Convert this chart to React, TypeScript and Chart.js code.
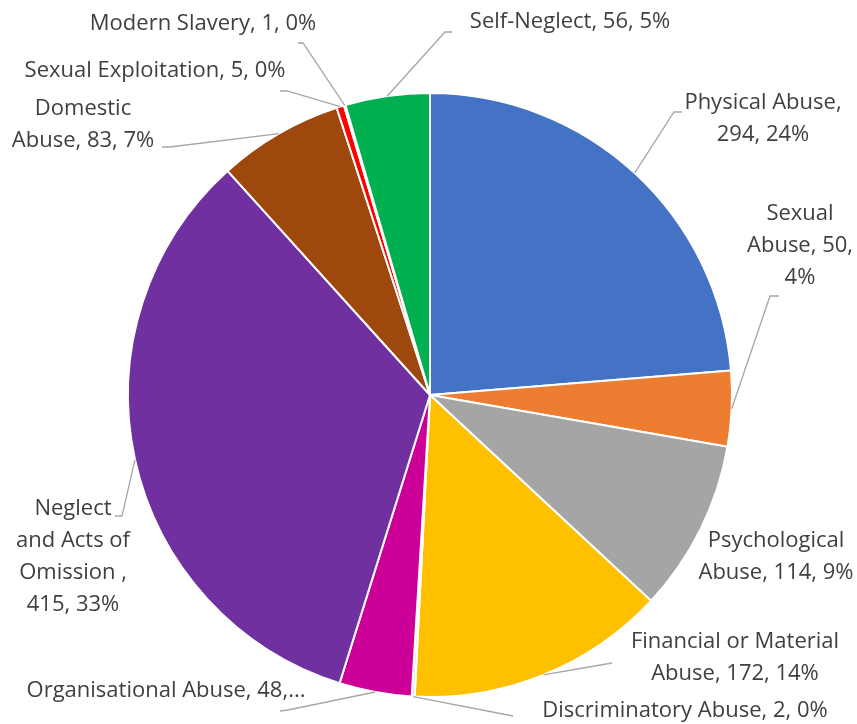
import React, { useEffect, useRef } from "react";
import { Chart, registerables } from "chart.js";

Chart.register(...registerables);

const categories = [
  "Physical Abuse",
  "Sexual Abuse",
  "Psychological Abuse",
  "Financial or Material Abuse",
  "Discriminatory Abuse",
  "Organisational Abuse",
  "Neglect and Acts of Omission ",
  "Domestic Abuse",
  "Sexual Exploitation",
  "Modern Slavery",
  "Self-Neglect",
];
const values = [294, 50, 114, 172, 2, 48, 415, 83, 5, 1, 56];
const colors = [
  "#4472C4",
  "#ED7D31",
  "#A5A5A5",
  "#FFC000",
  "#D6E0F3",
  "#CC0099",
  "#7030A0",
  "#9E480E",
  "#FF0000",
  "#F4B183",
  "#00B050",
];

// words per line for each label; if fewer words than available, text is truncated with "..."
const wrapWords = [[2, 2], [1, 2, 1], [1, 3], [3, 3], [5], [3], [1, 3, 2, 2], [1, 3], [4], [4], [3]];

// label layout: text center x, first line y, optional leader elbow & tail
type Lay = { cx: number; y: number; elbow?: [number, number]; tail?: [number, number] };
const labelLayout: Lay[] = [
  { cx: 763, y: 103, elbow: [674, 112], tail: [682, 112] },
  { cx: 800, y: 214, elbow: [770, 296], tail: [779, 296] },
  { cx: 776, y: 541 },
  { cx: 735, y: 642, elbow: [612, 663], tail: [612, 663] },
  { cx: 685, y: 711, elbow: [513, 716], tail: [513, 716] },
  { cx: 166, y: 691, elbow: [288, 710], tail: [280, 711] },
  { cx: 73, y: 509, elbow: [122, 516], tail: [115, 516] },
  { cx: 83, y: 109, elbow: [170, 147], tail: [162, 147] },
  { cx: 155, y: 71, elbow: [287, 91], tail: [280, 91] },
  { cx: 203, y: 24, elbow: [303, 43], tail: [298, 43] },
  { cx: 570, y: 22, elbow: [445, 32], tail: [452, 32] },
];

const FONT = '22px "Open Sans", sans-serif';
const LINE_H = 32;

const labelPlugin = {
  id: "excelLabels",
  afterDatasetsDraw(chart: any) {
    const ctx = chart.ctx as CanvasRenderingContext2D;
    const meta = chart.getDatasetMeta(0);
    const data = chart.data.datasets[0].data as number[];
    const total = data.reduce((a, b) => a + b, 0);
    ctx.save();
    meta.data.forEach((arc: any, i: number) => {
      const lay = labelLayout[i];
      const { x, y, startAngle, endAngle, outerRadius } = arc.getProps(
        ["x", "y", "startAngle", "endAngle", "outerRadius"],
        true
      );
      const mid = (startAngle + endAngle) / 2;
      const px = x + Math.cos(mid) * outerRadius;
      const py = y + Math.sin(mid) * outerRadius;
      if (lay.elbow && lay.tail) {
        ctx.strokeStyle = "#A6A6A6";
        ctx.lineWidth = 1.3;
        ctx.beginPath();
        ctx.moveTo(px, py);
        ctx.lineTo(lay.elbow[0], lay.elbow[1]);
        ctx.lineTo(lay.tail[0], lay.tail[1]);
        ctx.stroke();
      }
      const pct = Math.round((data[i] / total) * 100);
      const full = `${categories[i]}, ${data[i]}, ${pct}%`;
      const words = full.split(" ").filter((w) => w.length > 0);
      const lines: string[] = [];
      let k = 0;
      wrapWords[i].forEach((n) => {
        lines.push(words.slice(k, k + n).join(" "));
        k += n;
      });
      if (k < words.length) lines[lines.length - 1] += "...";
      ctx.font = FONT;
      ctx.fillStyle = "#404040";
      ctx.textAlign = "center";
      ctx.textBaseline = "middle";
      lines.forEach((ln, j) => ctx.fillText(ln, lay.cx, lay.y + j * LINE_H));
    });
    ctx.restore();
  },
};

export default function App() {
  const ref = useRef<HTMLCanvasElement | null>(null);
  useEffect(() => {
    if (!ref.current) return;
    const chart = new Chart(ref.current, {
      type: "pie",
      data: {
        labels: categories,
        datasets: [
          {
            data: values,
            backgroundColor: colors,
            borderColor: "#FFFFFF",
            borderWidth: 2,
          },
        ],
      },
      options: {
        animation: false,
        responsive: false,
        radius: 302,
        layout: { padding: { left: 128, right: 125, top: 93, bottom: 27 } },
        plugins: {
          legend: { display: false },
          tooltip: { enabled: false },
        },
      } as any,
      plugins: [labelPlugin],
    });
    return () => chart.destroy();
  }, []);
  return (
    <div style={{ position: "fixed", left: 0, top: 0, width: 857, height: 724, background: "#fff" }}>
      <canvas ref={ref} width={857} height={724} style={{ width: 857, height: 724, display: "block" }} />
    </div>
  );
}
